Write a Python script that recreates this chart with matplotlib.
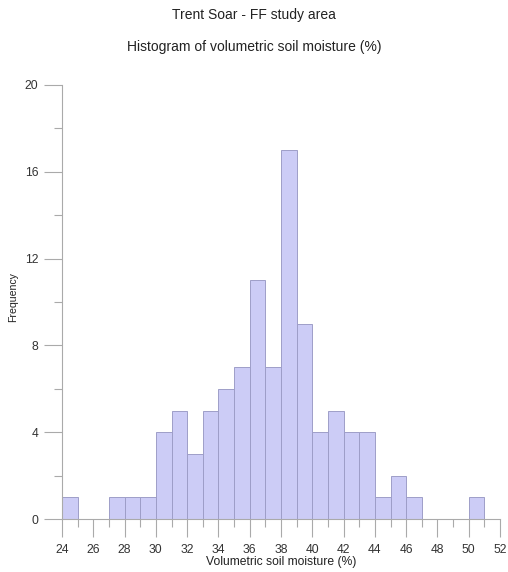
import numpy as np
import matplotlib.pyplot as plt

plt.rcParams["font.family"] = ["Liberation Sans", "DejaVu Sans"]

# histogram bins (width 1 %) and counts
bin_left = list(range(24, 51))
counts = [1, 0, 0, 1, 1, 1, 4, 5, 3, 5, 6, 7, 11, 7, 17, 9,
          4, 5, 4, 4, 1, 2, 1, 0, 0, 0, 1]

x_major = list(range(24, 53, 2))
y_major = [0, 4, 8, 12, 16, 20]

fig = plt.figure(figsize=(5.08, 5.72), dpi=100)
ax = fig.add_axes([62 / 508, 53 / 572, 438 / 508, 434 / 572])

ax.bar(bin_left, counts, width=1, align="edge",
       color="#ccccf6", edgecolor="#9e9ec8", linewidth=0.7)

ax.set_xlim(24, 52)
ax.set_ylim(0, 20)
ax.set_xticks(x_major)
ax.set_xticks(range(24, 53), minor=True)
ax.set_yticks(y_major)
ax.set_yticks(range(2, 20, 4), minor=True)

for side in ["top", "right"]:
    ax.spines[side].set_visible(False)
for side in ["left", "bottom"]:
    ax.spines[side].set_color("#aaaaaa")
    ax.spines[side].set_linewidth(0.8)

ax.tick_params(axis="both", which="major", length=13, width=0.8,
               color="#aaaaaa", labelsize=8.7, labelcolor="#333333", pad=4)
ax.tick_params(axis="both", which="minor", length=6, width=0.8,
               color="#aaaaaa")
ax.tick_params(axis="x", which="major", pad=5)

ax.set_xlabel("Volumetric soil moisture (%)", fontsize=8.7, color="#222222")
ax.set_ylabel("Frequency", fontsize=7.6, color="#222222")
ax.xaxis.set_label_coords(0.5, -(556 - 519) / 434)
ax.yaxis.set_label_coords(-(62 - 18) / 438, (519 - 297) / 434)

fig.text(0.5, 1 - 15 / 572, "Trent Soar - FF study area", ha="center",
         va="center", fontsize=10, color="#222222")
fig.text(0.5, 1 - 47 / 572, "Histogram of volumetric soil moisture (%)",
         ha="center", va="center", fontsize=10, color="#222222")

fig.savefig("out.png", dpi=100)
